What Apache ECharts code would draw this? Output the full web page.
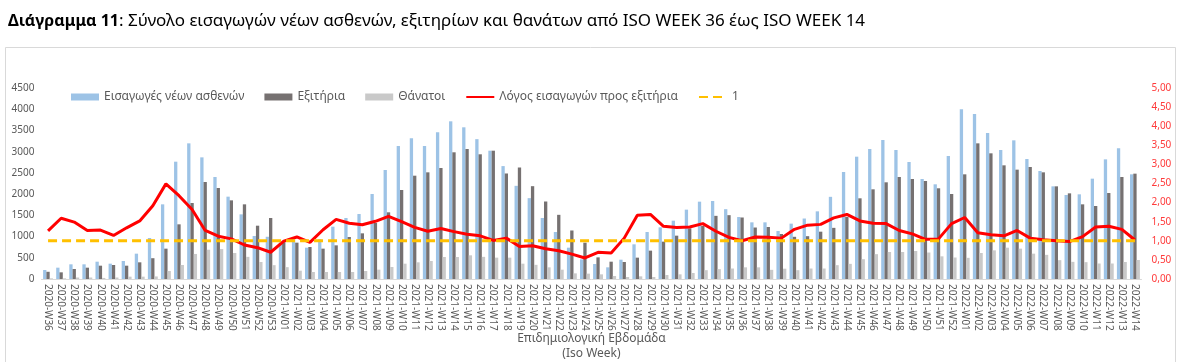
<!DOCTYPE html>
<html>
<head>
<meta charset="utf-8">
<script src="https://cdn.jsdelivr.net/npm/echarts@6/dist/echarts.min.js"></script>
<style>
html,body{margin:0;padding:0;background:#fff;}
#chart{width:1181px;height:362px;}
</style>
</head>
<body>
<div id="chart"></div>
<script>
// ---- Data ----
const weeks = [];
for (let w = 36; w <= 53; w++) weeks.push('2020-W' + String(w).padStart(2, '0'));
for (let w = 1; w <= 52; w++) weeks.push('2021-W' + String(w).padStart(2, '0'));
for (let w = 1; w <= 14; w++) weeks.push('2022-W' + String(w).padStart(2, '0'));

const admissions = [
  212, 267, 346, 346, 408, 361, 424, 597, 966, 1759, 2764, 3196, 2866, 2403, 1940, 1523, 1013, 995,
  860, 935, 738, 935, 1233, 1437, 1531, 2003, 2568, 3133, 3314, 3133, 3456, 3715, 3574, 3295, 3023, 2660,
  2195, 1905, 1437, 1107, 738, 463, 353, 275, 455, 817, 1107, 1217, 1374, 1634, 1822, 1838, 1645, 1460,
  1335, 1335, 1131, 1304, 1425, 1594, 1936, 2521, 2882, 3063, 3275, 3039, 2757, 2356, 2231, 2898,
  3998, 3887, 3440, 3039, 3267, 2827, 2544, 2183, 1979, 1995, 2364, 2819, 3079, 2466
];
const discharges = [
  170, 157, 236, 267, 314, 330, 314, 393, 490, 715, 1288, 1790, 2285, 2144, 1853, 1759, 1256, 1437,
  870, 856, 754, 715, 793, 990, 1076, 1319, 1571, 2097, 2434, 2513, 2615, 2985, 3063, 2938, 3023, 2486,
  2627, 2187, 1826, 1512, 1143, 856, 510, 408, 401, 503, 668, 880, 1021, 1193, 1252, 1488, 1504, 1449,
  1213, 1225, 1060, 994, 1009, 1115, 1205, 1461, 1901, 2113, 2278, 2403, 2356, 2309, 2137, 2003,
  2466, 3196, 2961, 2678, 2576, 2639, 2513, 2183, 2018, 1759, 1720, 2026, 2403, 2482
];
const deaths = [
  15, 15, 35, 35, 25, 35, 55, 55, 60, 188, 330, 590, 690, 705, 613, 522, 401, 326,
  279, 196, 165, 165, 165, 165, 188, 220, 283, 361, 393, 424, 518, 518, 558, 522, 503, 503,
  361, 334, 275, 220, 133, 126, 110, 71, 47, 63, 47, 94, 110, 141, 208, 232, 247, 275,
  275, 216, 243, 208, 247, 247, 326, 357, 467, 585, 636, 636, 660, 624, 534, 506,
  499, 613, 675, 738, 715, 597, 569, 444, 404, 397, 365, 365, 401, 448
];
const ratio = [
  1.26, 1.59, 1.49, 1.27, 1.28, 1.14, 1.34, 1.52, 1.92, 2.49, 2.18, 1.82, 1.27, 1.12, 1.05, 0.89, 0.82, 0.70,
  0.99, 1.10, 0.96, 1.29, 1.56, 1.46, 1.42, 1.51, 1.64, 1.50, 1.35, 1.25, 1.32, 1.24, 1.17, 1.13, 1.01, 1.07,
  0.85, 0.87, 0.79, 0.74, 0.65, 0.55, 0.70, 0.68, 1.07, 1.67, 1.69, 1.38, 1.35, 1.36, 1.45, 1.25, 1.09, 1.00,
  1.10, 1.09, 1.07, 1.30, 1.41, 1.43, 1.60, 1.69, 1.52, 1.46, 1.45, 1.27, 1.18, 1.04, 1.05, 1.45,
  1.61, 1.21, 1.16, 1.13, 1.27, 1.07, 1.03, 1.00, 0.98, 1.11, 1.36, 1.38, 1.30, 1.02
];
const referenceLevel = weeks.map(() => 1);

const names = {
  adm: 'Εισαγωγές νέων ασθενών',
  dis: 'Εξιτήρια',
  dth: 'Θάνατοι',
  rat: 'Λόγος εισαγωγών προς εξιτήρια',
  one: '1'
};
const axisTitle = ['Επιδημιολογική Εβδομάδα', '(Iso Week)'];

const FONT = '"Noto Sans", "Open Sans", sans-serif';
const chart = echarts.init(document.getElementById('chart'), null, {renderer: 'canvas'});
const hiddenSymbol = {color: 'rgba(0,0,0,0)', borderColor: 'rgba(0,0,0,0)', borderWidth: 0, opacity: 0};

chart.setOption({
  animation: false,
  backgroundColor: '#ffffff',
  textStyle: {fontFamily: FONT},
  title: {
    left: 3, top: 8,
    text: '{b|Διάγραμμα 11}{n|: Σύνολο εισαγωγών νέων ασθενών, εξιτηρίων και θανάτων από ISO WEEK 36 έως ISO WEEK 14}',
    textStyle: {
      fontWeight: 'normal',
      rich: {
        b: {fontFamily: FONT, fontSize: 16, fontWeight: 'bold', color: '#000'},
        n: {fontFamily: FONT, fontSize: 17, fontWeight: 'normal', color: '#000'}
      }
    }
  },
  graphic: [{
    type: 'rect', left: 3, top: 45, silent: true,
    shape: {width: 1170, height: 330},
    style: {fill: 'none', stroke: '#d9d9d9', lineWidth: 1}
  }, {
    type: 'text', x: 591.5, y: 339, silent: true,
    style: {text: axisTitle[0], fontFamily: FONT, fontSize: 12, fill: '#595959',
      align: 'center', verticalAlign: 'middle'}
  }, {
    type: 'text', x: 591.5, y: 354, silent: true,
    style: {text: axisTitle[1], fontFamily: FONT, fontSize: 12, fill: '#595959',
      align: 'center', verticalAlign: 'middle'}
  }],
  legend: {
    top: 86, left: 66,
    itemWidth: 28, itemHeight: 7, itemGap: 20,
    textStyle: {fontFamily: FONT, fontSize: 12, color: '#595959'},
    data: [
      {name: names.adm, icon: 'rect'},
      {name: names.dis, icon: 'rect'},
      {name: names.dth, icon: 'rect'},
      {name: names.rat, itemStyle: hiddenSymbol},
      {name: names.one, itemStyle: hiddenSymbol}
    ]
  },
  grid: {left: 41.5, right: 39.5, top: 88, bottom: 83, outerBoundsMode: 'none', containLabel: false},
  xAxis: {
    type: 'category',
    data: weeks,
    axisLine: {lineStyle: {color: '#d9d9d9'}},
    axisTick: {show: false},
    axisLabel: {rotate: -90, interval: 0, fontSize: 10, color: '#595959', margin: 5, fontFamily: FONT}
  },
  yAxis: [{
    type: 'value', min: 0, max: 4500, interval: 500,
    splitLine: {show: false},
    axisLine: {show: false}, axisTick: {show: false},
    axisLabel: {fontSize: 10, color: '#595959', margin: 7, fontFamily: FONT,
      formatter: v => String(v)}
  }, {
    type: 'value', min: 0, max: 5, interval: 0.5,
    splitLine: {show: false},
    axisLine: {show: false}, axisTick: {show: false},
    axisLabel: {fontSize: 10, color: '#ff3b3b', margin: 10, fontFamily: FONT,
      formatter: v => v.toFixed(2).replace('.', ',')}
  }],
  series: [
    {name: names.adm, type: 'bar', data: admissions, barWidth: 3.3, barGap: '0%',
      itemStyle: {color: '#9dc3e6'}},
    {name: names.dis, type: 'bar', data: discharges, barWidth: 3.3, barGap: '0%',
      itemStyle: {color: '#767171'}},
    {name: names.dth, type: 'bar', data: deaths, barWidth: 3.3, barGap: '0%',
      itemStyle: {color: '#c9c9c9'}},
    {name: names.rat, type: 'line', yAxisIndex: 1, data: ratio, symbol: 'none',
      lineStyle: {color: '#ff0000', width: 3}, itemStyle: {color: '#ff0000'}},
    {name: names.one, type: 'line', yAxisIndex: 1, data: referenceLevel, symbol: 'none',
      lineStyle: {color: '#ffc000', width: 3, type: [9, 5]}, itemStyle: {color: '#ffc000'}}
  ]
});
</script>
</body>
</html>
